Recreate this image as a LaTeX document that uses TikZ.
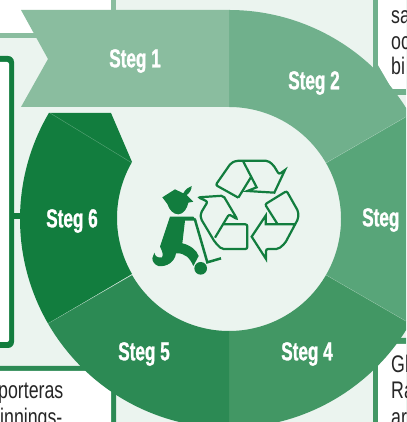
\documentclass[tikz,border=0pt]{standalone}
\usepackage{fontspec}
\newfontfamily\stegfont[FakeStretch=0.66,FakeBold=1]{Liberation Sans Bold}
\newfontfamily\bodyfont[FakeStretch=0.74]{Liberation Sans}
\definecolor{paleBg}{HTML}{EBF4EF}
\definecolor{sOne}{HTML}{8ABD9F}
\definecolor{sTwo}{HTML}{70B08C}
\definecolor{sThree}{HTML}{58A579}
\definecolor{sFour}{HTML}{429764}
\definecolor{sFive}{HTML}{2C8A54}
\definecolor{sSix}{HTML}{127D3E}
\tikzset{
  x=1pt,y=1pt,
  steglabel/.style={text=white,inner sep=0pt,font=\stegfont\fontsize{26}{26}\selectfont},
  bodytext/.style={text=black!85,inner sep=0pt,anchor=base west,font=\bodyfont\fontsize{24}{24}\selectfont},
  recycleline/.style={draw=sSix,line width=2.2pt,line join=miter,rounded corners=2pt},
  seam/.style={white,opacity=.3,line width=.4pt},
}
\newcommand{\ringsector}[3]{%
  \fill[#3] (#1:209pt) arc[start angle=#1,end angle=#2,radius=209pt]
    -- (#2:112pt) arc[start angle=#2,end angle=#1,radius=112pt] -- cycle;}
\begin{document}
\begin{tikzpicture}
\useasboundingbox (0,0) rectangle (406,422);
\clip (0,0) rectangle (406,422);
\fill[paleBg] (0,0) rectangle (406,422);
\begin{scope}[shift={(0,422)},yscale=-1]
  % top left box
  \fill[white] (0,0) rectangle (111,33);
  \fill[sOne] (111,0) rectangle (116,12);
  \fill[sOne] (0,33) rectangle (37,38);
  % left box
  \fill[sSix,rounded corners=6pt] (-10,56) -- (14,56) -- (14,348) -- (-10,348) -- cycle;
  \fill[white,rounded corners=2pt] (-10,62) -- (9,62) -- (9,342) -- (-10,342) -- cycle;
  \fill[sSix] (14,213.5) rectangle (24,219);
  % bottom left box
  \fill[sFive] (0,366) -- (84,366) -- (116,392) -- (116,422) -- (0,422) -- cycle;
  \fill[white] (0,371) -- (90,371) -- (111,388) -- (111,422) -- (0,422) -- cycle;
  % top right box
  \fill[sTwo] (373,0) -- (406,0) -- (406,95) -- (390,95) -- (373,70) -- cycle;
  \fill[white] (378,0) -- (406,0) -- (406,89) -- (392,89) -- (378,65) -- cycle;
  % bottom right box
  \fill[sFour] (373,422) -- (406,422) -- (406,338) -- (390,338) -- (373,362) -- cycle;
  \fill[white] (378,422) -- (406,422) -- (406,344) -- (392,344) -- (378,360) -- cycle;
  % body text fragments
  \node[bodytext] (tsa) at (391,24) {sa};
  \node[bodytext] (toc) at (391,50) {oc};
  \node[bodytext] (tbi) at (391,75) {bi};
  \node[bodytext] (tgl) at (391,373) {Gl};
  \node[bodytext] (tra) at (391,399) {Ra};
  \node[bodytext] (tar) at (391,425) {ar};
  \node[bodytext] (tpo) at (-2,399) {porteras};
  \node[bodytext] (tin) at (0,426) {innings-};
\end{scope}
% ring
\begin{scope}[shift={(229,203)}]
  \ringsector{90}{30}{sTwo}
  \ringsector{30}{-30}{sThree}
  \ringsector{-30}{-90}{sFour}
  \ringsector{-90}{-150}{sFive}
  \fill[sSix] (210:209pt) arc[start angle=210,end angle=149.5,radius=209pt]
    -- (-118,106) -- (-97,57) arc[start angle=150,end angle=210,radius=112pt] -- cycle;
  \draw[seam] (30:112pt) -- (30:209pt);
  \draw[seam] (-30:112pt) -- (-30:209pt);
  \draw[seam] (210:112pt) -- (210:209pt);
  \draw[seam] (-97,56) -- (-179,106);
\end{scope}
\begin{scope}[shift={(0,422)},yscale=-1]
  % banner
  \fill[sOne] (21,10) -- (229,10) -- (229,107) -- (21,107) -- (48,59) -- cycle;
  % recycling symbol
  \begin{scope}[shift={(195,155)},scale=1/3]
    \draw[recycleline] (130,128) -- (62,90) -- (108,24) -- (125,17) -- (218,17) -- (235,30) -- (252,58) [sharp corners] -- (270,45) -- (238,113) -- (157,108) -- (185,97) -- (145,20);
    \draw[recycleline,sharp corners] (130,128) -- (167,68);
    \draw[recycleline] (248,208) -- (210,148) -- (275,108) -- (310,170) -- (310,190) -- (270,265) -- (250,282) -- (213,282) [sharp corners] -- (213,312) -- (170,245) -- (212,182) -- (212,208) -- (300,208);
    \draw[recycleline] (60,248) -- (102,178) -- (127,193) -- (85,122) -- (10,127) -- (38,140) -- (17,175) -- (17,190) -- (60,262) -- (80,282) -- (157,282) -- (157,208) -- (85,208);
  \end{scope}
  % player
  \begin{scope}[shift={(150,180)},scale=1/3]
    \fill[sSix] (37,52) -- (75,28) -- (100,40) .. controls (105,28) and (115,22) .. (125,18)
      .. controls (125,30) and (118,40) .. (110,45) -- (130,65) -- (115,68)
      .. controls (112,85) and (100,103) .. (85,103) .. controls (70,103) and (58,90) .. (52,72) -- cycle;
    \fill[sSix] (60,110) -- (130,110) -- (140,122) -- (105,122) -- (97,190)
      .. controls (120,195) and (140,210) .. (146,228) -- (130,258)
      .. controls (120,235) and (105,218) .. (78,220)
      .. controls (75,245) and (50,262) .. (25,258) .. controls (15,255) and (7,245) .. (7,235)
      -- (13,218) .. controls (15,228) and (22,235) .. (36,232)
      .. controls (42,225) and (35,210) .. (30,200) -- cycle;
    \draw[sSix,line width=2.5pt,line join=miter] (134,116) -- (172,247) -- (213,235);
    \fill[sSix] (152,265) circle[radius=19];
  \end{scope}
  % labels
  \node[steglabel] (s1) at (135,61) {Steg 1};
  \node[steglabel] (s2) at (314,83) {Steg 2};
  \node[steglabel,anchor=west] (s3) at (362,220) {Steg};
  \node[steglabel] (s4) at (307,354) {Steg 4};
  \node[steglabel] (s5) at (144,354) {Steg 5};
  \node[steglabel] (s6) at (72,221) {Steg 6};
\end{scope}
\end{tikzpicture}
\end{document}
